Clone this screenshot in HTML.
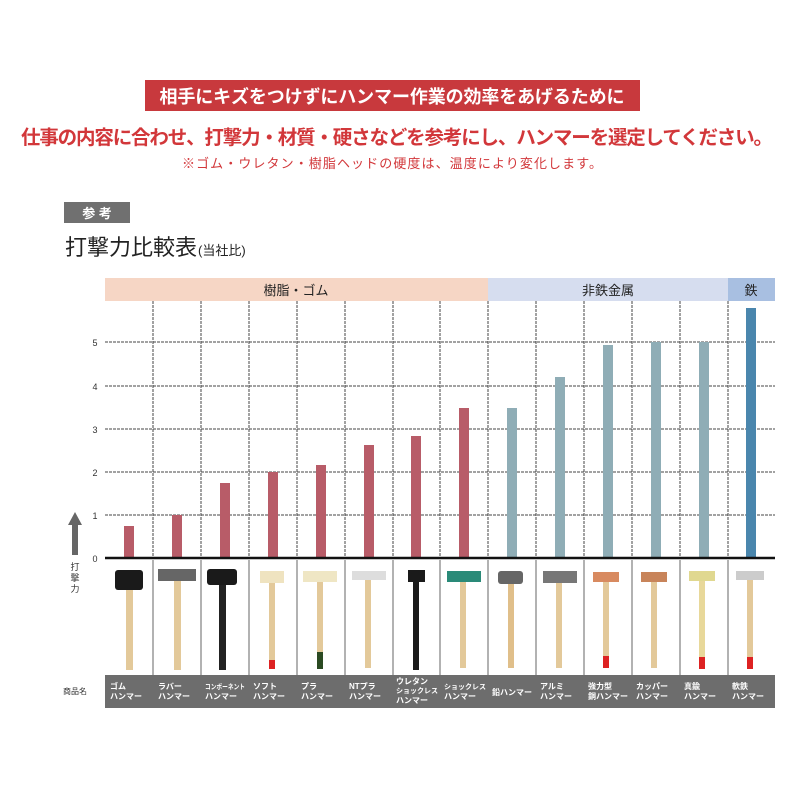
<!DOCTYPE html>
<html><head><meta charset="utf-8"><style>
body{margin:0;background:#fff;width:800px;height:800px;overflow:hidden;font-family:"Liberation Sans","Noto Sans CJK JP",sans-serif}
</style></head><body>
<svg width="800" height="800" xmlns="http://www.w3.org/2000/svg" font-family="Liberation Sans, Noto Sans CJK JP, sans-serif">
<rect x="145" y="80" width="495" height="31" fill="#c8393d"/>
<text x="392" y="103" font-size="18" font-weight="bold" fill="#fff" text-anchor="middle" textLength="465">相手にキズをつけずにハンマー作業の効率をあげるために</text>
<text x="397" y="144" font-size="19.5" font-weight="bold" fill="#d2373a" text-anchor="middle" textLength="752">仕事の内容に合わせ、打撃力・材質・硬さなどを参考にし、ハンマーを選定してください。</text>
<text x="392" y="168" font-size="13" fill="#d2373a" text-anchor="middle" textLength="420">※ゴム・ウレタン・樹脂ヘッドの硬度は、温度により変化します。</text>
<rect x="64" y="202" width="66" height="21" fill="#707070"/>
<text x="97" y="218" font-size="13" font-weight="bold" fill="#fff" text-anchor="middle">参 考</text>
<text x="65" y="255" font-size="22" fill="#222">打撃力比較表</text>
<text x="198" y="255" font-size="13" fill="#222">(当社比)</text>
<rect x="105" y="278" width="383" height="23" fill="#f6d6c5"/>
<rect x="488" y="278" width="240" height="23" fill="#d6ddef"/>
<rect x="728" y="278" width="47" height="23" fill="#a8bfe1"/>
<text x="296" y="295" font-size="13" fill="#222" text-anchor="middle">樹脂・ゴム</text>
<text x="608" y="295" font-size="13" fill="#222" text-anchor="middle">非鉄金属</text>
<text x="751" y="295" font-size="13" fill="#222" text-anchor="middle">鉄</text>
<g stroke="#444" stroke-width="1" stroke-dasharray="3,1">
<line x1="105" y1="342" x2="775" y2="342"/><line x1="105" y1="386" x2="775" y2="386"/>
<line x1="105" y1="429" x2="775" y2="429"/><line x1="105" y1="472" x2="775" y2="472"/>
<line x1="105" y1="515" x2="775" y2="515"/>
<line x1="153" y1="301" x2="153" y2="558"/><line x1="201" y1="301" x2="201" y2="558"/>
<line x1="249" y1="301" x2="249" y2="558"/><line x1="297" y1="301" x2="297" y2="558"/>
<line x1="345" y1="301" x2="345" y2="558"/><line x1="393" y1="301" x2="393" y2="558"/>
<line x1="440" y1="301" x2="440" y2="558"/><line x1="488" y1="301" x2="488" y2="558"/>
<line x1="536" y1="301" x2="536" y2="558"/><line x1="584" y1="301" x2="584" y2="558"/>
<line x1="632" y1="301" x2="632" y2="558"/><line x1="680" y1="301" x2="680" y2="558"/>
<line x1="728" y1="301" x2="728" y2="558"/>
</g>
<g font-size="9" fill="#333" text-anchor="middle">
<text x="95" y="346">5</text><text x="95" y="390">4</text><text x="95" y="433">3</text>
<text x="95" y="476">2</text><text x="95" y="519">1</text><text x="95" y="562">0</text>
</g>
<polygon points="75,512 68,525 72,525 72,555 78,555 78,525 82,525" fill="#666"/>
<text x="75" y="570" font-size="9" fill="#333" text-anchor="middle">打</text>
<text x="75" y="581" font-size="9" fill="#333" text-anchor="middle">撃</text>
<text x="75" y="592" font-size="9" fill="#333" text-anchor="middle">力</text>
<g fill="#b85c68">
<rect x="124" y="526" width="10" height="32"/><rect x="172" y="515" width="10" height="43"/>
<rect x="220" y="483" width="10" height="75"/><rect x="268" y="472" width="10" height="86"/>
<rect x="316" y="465" width="10" height="93"/><rect x="364" y="445" width="10" height="113"/>
<rect x="411" y="436" width="10" height="122"/><rect x="459" y="408" width="10" height="150"/>
</g>
<g fill="#8fadb6">
<rect x="507" y="408" width="10" height="150"/><rect x="555" y="377" width="10" height="181"/>
<rect x="603" y="345" width="10" height="213"/><rect x="651" y="342" width="10" height="216"/>
<rect x="699" y="342" width="10" height="216"/>
</g>
<rect x="746" y="308" width="10" height="250" fill="#4a86ad"/>
<line x1="105" y1="558" x2="775" y2="558" stroke="#111" stroke-width="2.5"/>
<g stroke="#666" stroke-width="1">
<line x1="153" y1="560" x2="153" y2="675"/><line x1="201" y1="560" x2="201" y2="675"/>
<line x1="249" y1="560" x2="249" y2="675"/><line x1="297" y1="560" x2="297" y2="675"/>
<line x1="345" y1="560" x2="345" y2="675"/><line x1="393" y1="560" x2="393" y2="675"/>
<line x1="440" y1="560" x2="440" y2="675"/><line x1="488" y1="560" x2="488" y2="675"/>
<line x1="536" y1="560" x2="536" y2="675"/><line x1="584" y1="560" x2="584" y2="675"/>
<line x1="632" y1="560" x2="632" y2="675"/><line x1="680" y1="560" x2="680" y2="675"/>
<line x1="728" y1="560" x2="728" y2="675"/>
</g>
<g>
<rect x="126" y="585" width="7" height="85" fill="#e3c99a"/><rect x="115" y="570" width="28" height="20" rx="3" fill="#1a1a1a"/>
<rect x="174" y="575" width="7" height="95" fill="#e3c99a"/><rect x="158" y="569" width="38" height="12" fill="#666"/>
<rect x="219" y="575" width="7" height="95" fill="#222"/><rect x="207" y="569" width="30" height="16" rx="3" fill="#1a1a1a"/>
<rect x="269" y="580" width="6" height="88" fill="#e3c99a"/><rect x="269" y="660" width="6" height="9" fill="#d22"/><rect x="260" y="571" width="24" height="12" fill="#efe3c0"/>
<rect x="317" y="580" width="6" height="88" fill="#e3c99a"/><rect x="317" y="652" width="6" height="17" fill="#2a4a22"/><rect x="303" y="571" width="34" height="11" fill="#efe6c4"/>
<rect x="365" y="578" width="6" height="90" fill="#e3c99a"/><rect x="352" y="571" width="34" height="9" fill="#ddd"/>
<rect x="413" y="580" width="6" height="90" fill="#1a1a1a"/><rect x="408" y="570" width="17" height="12" fill="#1a1a1a"/>
<rect x="460" y="578" width="6" height="90" fill="#e3c99a"/><rect x="447" y="571" width="34" height="11" fill="#2a8a78"/>
<rect x="508" y="578" width="6" height="90" fill="#e0bf8a"/><rect x="498" y="571" width="25" height="13" rx="3" fill="#666"/>
<rect x="556" y="578" width="6" height="90" fill="#e3c99a"/><rect x="543" y="571" width="34" height="12" fill="#777"/>
<rect x="603" y="578" width="6" height="90" fill="#e3c99a"/><rect x="603" y="656" width="6" height="12" fill="#d22"/><rect x="593" y="572" width="26" height="10" fill="#d88a60"/>
<rect x="651" y="578" width="6" height="90" fill="#e3c99a"/><rect x="641" y="572" width="26" height="10" fill="#c8845a"/>
<rect x="699" y="578" width="6" height="90" fill="#e8d89a"/><rect x="699" y="657" width="6" height="12" fill="#d22"/><rect x="689" y="571" width="26" height="10" fill="#e0d890"/>
<rect x="747" y="578" width="6" height="90" fill="#e3c99a"/><rect x="747" y="657" width="6" height="12" fill="#d22"/><rect x="736" y="571" width="28" height="9" fill="#ccc"/>
</g>
<rect x="105" y="675" width="670" height="33" fill="#6d6d6d"/>
<text x="75" y="694" font-size="8" fill="#333" text-anchor="middle">商品名</text>
<g font-size="8" fill="#fff" font-weight="bold">
<text x="110" y="689">ゴム</text><text x="110" y="699">ハンマー</text>
<text x="158" y="689">ラバー</text><text x="158" y="699">ハンマー</text>
<text x="205" y="689" font-size="7" textLength="40" lengthAdjust="spacingAndGlyphs">コンポーネント</text><text x="205" y="699">ハンマー</text>
<text x="253" y="689">ソフト</text><text x="253" y="699">ハンマー</text>
<text x="301" y="689">プラ</text><text x="301" y="699">ハンマー</text>
<text x="349" y="689">NTプラ</text><text x="349" y="699">ハンマー</text>
<text x="396" y="684">ウレタン</text><text x="396" y="693" font-size="7">ショックレス</text><text x="396" y="703">ハンマー</text>
<text x="444" y="689" font-size="7">ショックレス</text><text x="444" y="699">ハンマー</text>
<text x="492" y="695">鉛ハンマー</text>
<text x="540" y="689">アルミ</text><text x="540" y="699">ハンマー</text>
<text x="588" y="689">強力型</text><text x="588" y="699">銅ハンマー</text>
<text x="636" y="689">カッパー</text><text x="636" y="699">ハンマー</text>
<text x="684" y="689">真鍮</text><text x="684" y="699">ハンマー</text>
<text x="732" y="689">軟鉄</text><text x="732" y="699">ハンマー</text>
</g>
</svg>
</body></html>
